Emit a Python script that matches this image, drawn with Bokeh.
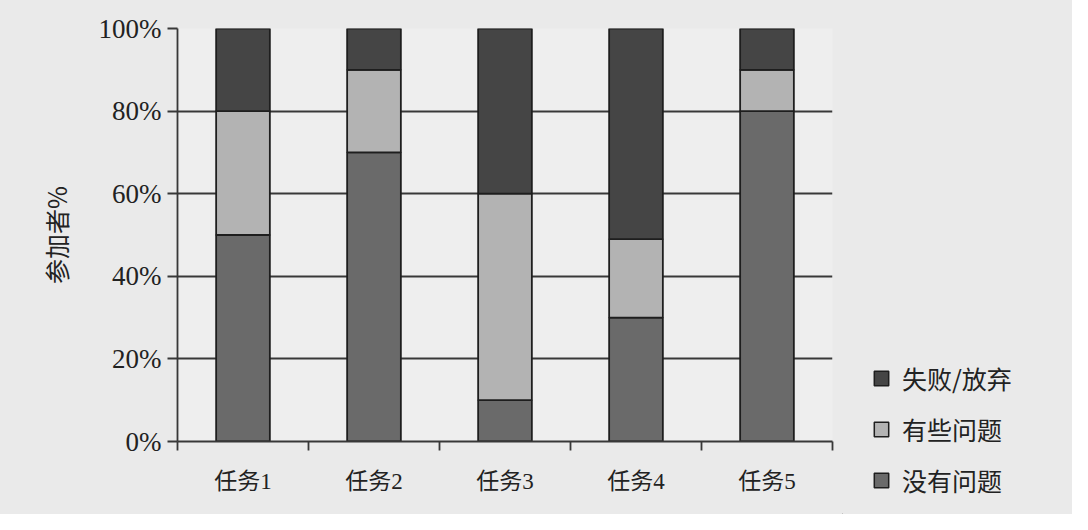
from bokeh.plotting import figure
from bokeh.layouts import row, column
from bokeh.models import Range1d, FixedTicker, Legend, LegendItem, ColumnDataSource
from bokeh.embed import file_html
from bokeh.resources import INLINE

tasks = ["任务1", "任务2", "任务3", "任务4", "任务5"]
no_problem = [50, 70, 10, 30, 80]
some_problem = [30, 20, 50, 19, 10]
failed = [20, 10, 40, 51, 10]
series_names = ["没有问题", "有些问题", "失败/放弃"]
series_colors = ["#6a6a6a", "#b3b3b3", "#454545"]
y_ticks = [0, 20, 40, 60, 80, 100]

BG = "#eaeaea"
PLOT_BG = "#eeeeee"
INK = "#383838"
EDGE = "#1e1e1e"
SERIF = "'Liberation Serif', 'Noto Sans CJK SC', serif"
CJK = "'Noto Sans CJK SC', 'Liberation Serif', sans-serif"

xs = [i + 0.5 for i in range(len(tasks))]
data = dict(x=xs, a=no_problem, b=some_problem, c=failed)

p = figure(width=842, height=514, output_backend="svg", toolbar_location=None,
           x_range=Range1d(0, len(tasks)), y_range=Range1d(0, 100),
           min_border_left=177, min_border_right=10, min_border_top=28, min_border_bottom=73)
p.background_fill_color = PLOT_BG
p.border_fill_color = BG
p.outline_line_color = None

renderers = p.vbar_stack(["a", "b", "c"], x="x", width=0.41, source=data,
                         color=series_colors, line_color=EDGE, line_width=1.8)

# x axis: labels at centers, ticks at boundaries
xa = p.xaxis[0]
xa.ticker = FixedTicker(ticks=xs, minor_ticks=list(range(len(tasks) + 1)))
xa.major_label_overrides = {x: t for x, t in zip(xs, tasks)}
xa.major_tick_in = 0
xa.major_tick_out = 0
xa.minor_tick_in = 0
xa.minor_tick_out = 9
xa.minor_tick_line_color = INK
xa.minor_tick_line_width = 1.8
xa.axis_line_color = INK
xa.axis_line_width = 1.8
xa.major_label_text_font = SERIF
xa.major_label_text_font_size = "23px"
xa.major_label_text_color = "#222222"
xa.major_label_standoff = 18

ya = p.yaxis[0]
ya.ticker = FixedTicker(ticks=y_ticks, minor_ticks=[])
ya.major_label_overrides = {v: f"{v}%" for v in y_ticks}
ya.major_tick_in = 0
ya.major_tick_out = 10
ya.major_tick_line_color = INK
ya.major_tick_line_width = 1.8
ya.axis_line_color = INK
ya.axis_line_width = 1.8
ya.major_label_text_font = SERIF
ya.major_label_text_font_size = "27px"
ya.major_label_text_color = "#222222"
ya.major_label_standoff = 6
ya.axis_label = "参加者%"
ya.axis_label_text_font = CJK
ya.axis_label_text_font_size = "25px"
ya.axis_label_text_font_style = "normal"
ya.axis_label_text_color = "#222222"
ya.axis_label_standoff = 22

p.xgrid.visible = False
p.ygrid.ticker = FixedTicker(ticks=y_ticks)
p.ygrid.grid_line_color = INK
p.ygrid.grid_line_width = 1.8

# legend panel as a separate figure to the right (no axes)
lf = figure(width=230, height=514, output_backend="svg", toolbar_location=None,
            x_range=Range1d(0, 1), y_range=Range1d(0, 1),
            x_axis_type=None, y_axis_type=None,
            min_border_left=0, min_border_right=0, min_border_top=0, min_border_bottom=0)
lf.grid.visible = False
lf.background_fill_color = BG
lf.border_fill_color = BG
lf.outline_line_color = None

# swatch carriers: one hidden bar per series, kept outside the visible range
swatches = []
for c in series_colors:
    src = ColumnDataSource(dict(x=[-1.0], top=[0.0]))
    swatches.append(lf.vbar(x="x", top="top", width=0.1, source=src,
                            fill_color=c, line_color=EDGE, line_width=1.5))
items = [LegendItem(label=series_names[i], renderers=[swatches[i]]) for i in (2, 1, 0)]
legend = Legend(items=items, location=(30, 16))
legend.background_fill_alpha = 0
legend.border_line_color = None
legend.padding = 0
legend.margin = 0
legend.glyph_width = 18
legend.glyph_height = 18
legend.spacing = 15
legend.label_text_font = CJK
legend.label_text_font_size = "25px"
legend.label_text_color = "#222222"
legend.label_standoff = 12
lf.add_layout(legend, "center")

layout = row(p, column(lf, spacing=0), spacing=0, styles={"background-color": BG})
open("out.html", "w").write(file_html(layout, INLINE))
